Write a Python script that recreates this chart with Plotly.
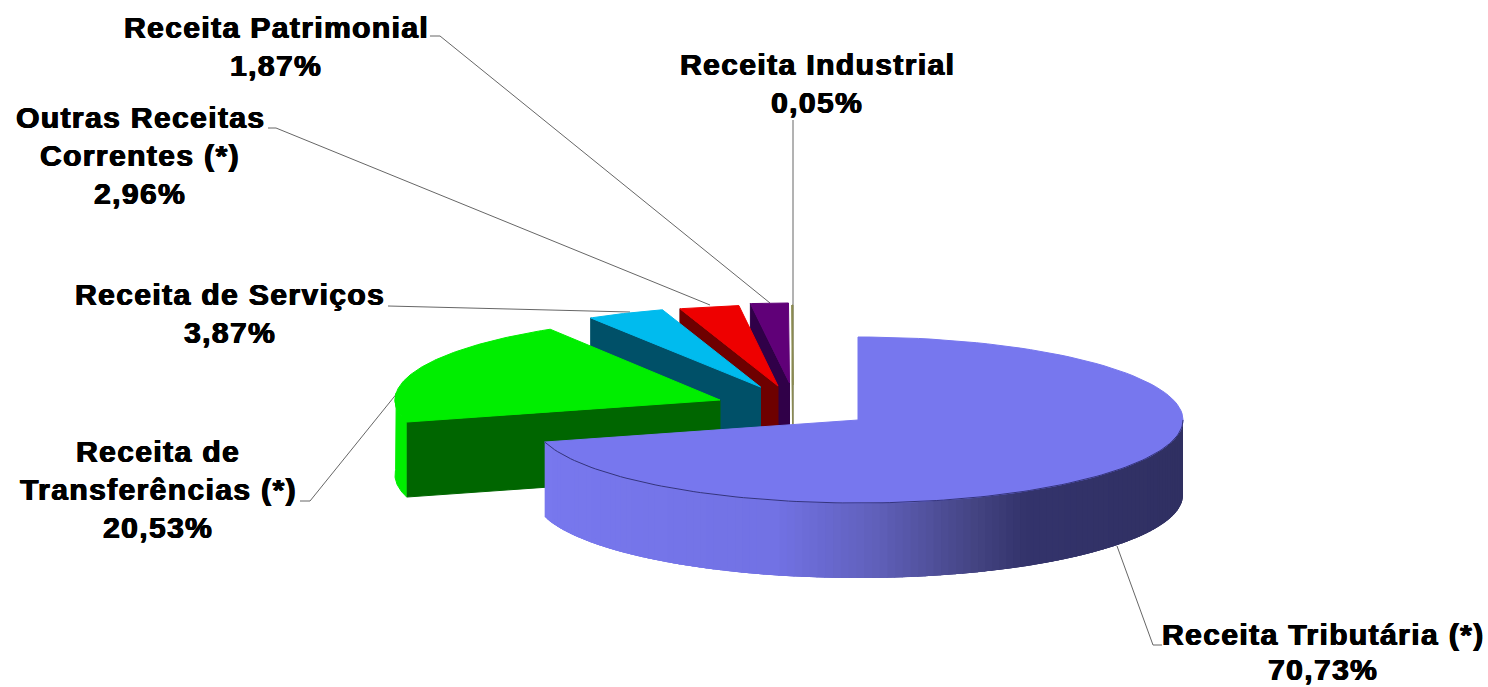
import numpy as np
import plotly.graph_objects as go

# ---- data ----
categories = [["Receita Tributária (*)"], ["Receita de", "Transferências (*)"], ["Receita de Serviços"],
              ["Outras Receitas", "Correntes (*)"], ["Receita Patrimonial"], ["Receita Industrial"]]
values = [70.73, 20.53, 3.87, 2.96, 1.87, 0.05]
value_labels = ["70,73%", "20,53%", "3,87%", "2,96%", "1,87%", "0,05%"]

# ---- style / geometry (canvas pixels) ----
top_colors = ["#7777ee", "#00ee00", "#00bbee", "#ee0000", "#600078", "#8a8a50"]
side_colors = ["#5555aa", "#006600", "#005068", "#6e0000", "#300048", "#8a8a50"]
apex_x = [858, 720, 760.5, 778, 789.5, 793]
apex_y = [420, 400, 387, 386, 383, 385]
radius_y = [83, 83, 81, 81, 80, 80]
RX = 325
DEPTH = 75
label_x = [1323, 158, 230, 140, 276, 817]
label_first_y = [634, 451, 294, 117, 27, 64]
LINE_STEP = 38
leader_x = [[1162, 1153, 1117], [300, 310, 398], [388, 630], [268, 276, 710], [430, 440, 770], [793, 793]]
leader_y = [[645, 645, 546], [501, 501, 392], [306, 312], [128, 128, 305], [36, 36, 303], [120, 425]]
grad_x = [547, 760, 860, 960, 1010, 1183]
grad_r = [0x78, 0x72, 0x60, 0x44, 0x34, 0x30]
grad_g = [0x78, 0x72, 0x60, 0x44, 0x34, 0x30]
grad_b = [0xee, 0xe4, 0xba, 0x82, 0x6c, 0x62]

fractions = np.array(values) / sum(values) * 360
ends = np.cumsum(fractions)
starts = ends - fractions


def arc(i, a0, a1, n=120):
    t = np.radians(np.linspace(a0, a1, n))
    return apex_x[i] + RX * np.sin(t), apex_y[i] - radius_y[i] * np.cos(t)


def poly(xs, ys, fill, line=None, width=1):
    return go.Scatter(x=list(xs), y=list(ys), mode="lines", fill="toself", fillcolor=fill,
                      line=dict(color=line or fill, width=width), hoverinfo="skip", showlegend=False)


fig = go.Figure()

# leader lines sit beneath the slices
for lx, ly in zip(leader_x, leader_y):
    fig.add_trace(go.Scatter(x=lx, y=ly, mode="lines", line=dict(color="#666666", width=1),
                             hoverinfo="skip", showlegend=False))

# back-to-front drawing order
for i in [5, 4, 3, 2, 1, 0]:
    a0, a1 = starts[i], ends[i]
    ax, ay = apex_x[i], apex_y[i]
    ex, ey = arc(i, a0, a1)
    # radial cut face on the visible (start) edge
    if i != 0:
        fig.add_trace(poly([ax, ex[0], ex[0], ax, ax], [ay, ey[0], ey[0] + DEPTH, ay + DEPTH, ay], side_colors[i]))
    # outer rim
    if i == 1:
        rx_, ry_ = arc(i, a0, 275, 30)
        fig.add_trace(poly(np.r_[rx_, rx_[::-1]], np.r_[ry_, ry_[::-1] + DEPTH], top_colors[i]))
    if i == 0:
        # each strip overlaps the one painted before it, so no seams show
        edge = np.linspace(90, a1, 121)
        for s0, s1 in zip(edge[:-1], edge[1:]):
            qx, qy = arc(i, max(90, s0 - 3), s1, 6)
            xm = arc(i, s0, s1, 3)[0].mean()
            col = "rgb(%d,%d,%d)" % (np.interp(xm, grad_x, grad_r), np.interp(xm, grad_x, grad_g),
                                     np.interp(xm, grad_x, grad_b))
            fig.add_trace(poly(np.r_[qx, qx[::-1]], np.r_[qy, qy[::-1] + DEPTH], col, width=0))
    # top face
    fig.add_trace(poly(np.r_[ax, ex, ax], np.r_[ay, ey, ay], top_colors[i]))
    if i == 0:
        rx_, ry_ = arc(i, 90, a1)
        fig.add_trace(go.Scatter(x=rx_, y=ry_, mode="lines", line=dict(color="#34347c", width=1),
                                 hoverinfo="skip", showlegend=False))

for lines, val, x, y0 in zip(categories, value_labels, label_x, label_first_y):
    for k, txt in enumerate(lines + [val]):
        yy = y0 + k * LINE_STEP
        fig.add_annotation(x=x, y=min(yy, 669), xref="x", yref="y",
                           text=f'<span style="letter-spacing:1.4px"><b>{txt}</b></span>', showarrow=False,
                           xanchor="center", yanchor="middle", align="center",
                           font=dict(family="Liberation Sans", size=30, color="#000000",
                                     shadow="0.7px 0 0 #000, -0.5px 0 0 #000, 0 0.4px 0 #000"))

fig.update_layout(width=1488, height=687, margin=dict(l=0, r=0, t=0, b=0), autosize=False,
                  paper_bgcolor="white", plot_bgcolor="white", showlegend=False,
                  xaxis=dict(range=[0, 1488], visible=False, fixedrange=True),
                  yaxis=dict(range=[687, 0], visible=False, fixedrange=True))

fig.write_html("out.html", post_script="document.body.style.margin='0';document.documentElement.style.overflow='hidden';",
               config={"displayModeBar": False})
